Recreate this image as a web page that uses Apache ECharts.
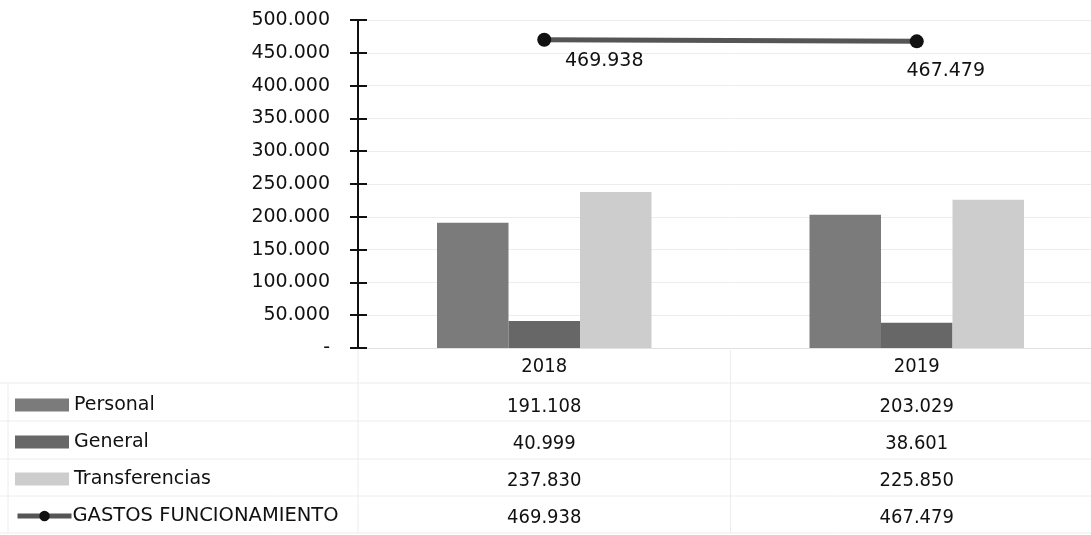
<!DOCTYPE html>
<html>
<head>
<meta charset="utf-8">
<script src="https://cdn.jsdelivr.net/npm/echarts@6/dist/echarts.min.js"></script>
<style>
html,body{margin:0;padding:0;background:#fff;overflow:hidden;width:1091px;height:535px;}
#main{width:1110px;height:535px;}
</style>
</head>
<body>
<div id="main"></div>
<script>
const categories = ['2018', '2019'];
const seriesNames = ['Personal', 'General', 'Transferencias', 'GASTOS FUNCIONAMIENTO'];
const personal = [191108, 203029];
const general = [40999, 38601];
const transferencias = [237830, 225850];
const gastos = [469938, 467479];
const yTickValues = [0, 50000, 100000, 150000, 200000, 250000, 300000, 350000, 400000, 450000, 500000];

const fmt = v => v === 0 ? '-' : String(v).replace(/\B(?=(\d{3})+(?!\d))/g, '.');
const wideFont = "'DejaVu Sans', Verdana, sans-serif";
const narrowFont = "'DejaVu Sans Condensed', 'Liberation Sans Narrow', 'Roboto', sans-serif";

const chart = echarts.init(document.getElementById('main'), null, {renderer: 'canvas'});

const legendRowsY = [405, 442, 479, 516];
const legends = seriesNames.map((n, i) => {
  const l = {
    data: [{name: n, icon: 'rect'}],
    left: 15,
    top: legendRowsY[i] - 10,
    padding: 0,
    itemWidth: 54,
    itemHeight: 13,
    selectedMode: false,
    textStyle: {fontFamily: wideFont, fontSize: 19, color: '#111', lineHeight: 20}
  };
  if (i === 3) {
    l.data = [n];
    l.itemGap = 0;
    l.lineStyle = {width: 5, color: '#555'};
    l.itemStyle = {color: '#111'};
    l.textStyle = {fontFamily: wideFont, fontSize: 19.5, color: '#111', lineHeight: 20, padding: [0, 0, 0, -4]};
  }
  return l;
});

const labelOffsets = [[60, 0], [29, 8]];

chart.setOption({
  animation: false,
  backgroundColor: '#fff',
  legend: legends,
  grid: {left: 358, top: 20, width: 745, height: 328, containLabel: false},
  xAxis: {
    type: 'category',
    data: categories,
    axisLine: {show: true, lineStyle: {color: '#e2e2e2', width: 1}},
    axisTick: {show: false},
    axisLabel: {fontFamily: narrowFont, fontSize: 20, color: '#111', margin: 9}
  },
  yAxis: [{
    type: 'value',
    min: yTickValues[0],
    max: yTickValues[yTickValues.length - 1],
    interval: yTickValues[1] - yTickValues[0],
    axisLine: {show: true, lineStyle: {color: '#111', width: 2}},
    axisTick: {show: true, length: 8, lineStyle: {color: '#111', width: 2}},
    axisLabel: {fontFamily: wideFont, fontSize: 19, color: '#111', margin: 28, formatter: fmt},
    splitLine: {show: true, lineStyle: {color: '#ececec', width: 1}}
  }, {
    type: 'value',
    position: 'left',
    min: yTickValues[0],
    max: yTickValues[yTickValues.length - 1],
    interval: yTickValues[1] - yTickValues[0],
    axisLine: {show: false},
    axisTick: {show: true, inside: true, length: 9, lineStyle: {color: '#111', width: 2}},
    axisLabel: {show: false},
    splitLine: {show: false}
  }],
  series: [
    {name: seriesNames[0], type: 'bar', data: personal, barWidth: 71.5, barGap: '0%', itemStyle: {color: '#7b7b7b'}},
    {name: seriesNames[1], type: 'bar', data: general, barWidth: 71.5, barGap: '0%', itemStyle: {color: '#676767'}},
    {name: seriesNames[2], type: 'bar', data: transferencias, barWidth: 71.5, barGap: '0%', itemStyle: {color: '#cdcdcd'}},
    {
      name: seriesNames[3], type: 'line',
      data: gastos.map((v, i) => ({value: v, label: {offset: labelOffsets[i]}})),
      symbol: 'circle', symbolSize: 14,
      lineStyle: {color: '#555', width: 5},
      itemStyle: {color: '#111'},
      label: {show: true, position: 'bottom', formatter: p => fmt(p.value), fontFamily: wideFont, fontSize: 19, color: '#111'}
    }
  ]
});

// Data table below the chart
const rowsY = [407, 444, 481, 518];
const rowData = [personal, general, transferencias, gastos];
const graphics = [];
const hLines = [383, 421, 459, 496, 533];
hLines.forEach(y => graphics.push({type: 'line', shape: {x1: 0, y1: y, x2: 1110, y2: y}, style: {stroke: '#ececec', lineWidth: 1}, silent: true}));
const x0 = chart.convertToPixel({xAxisIndex: 0}, categories[0]);
const x1 = chart.convertToPixel({xAxisIndex: 0}, categories[1]);
const half = (x1 - x0) / 2;
[x0 - half, x0 + half].forEach(x => graphics.push({type: 'line', shape: {x1: x, y1: 350, x2: x, y2: 533}, style: {stroke: '#ececec', lineWidth: 1}, silent: true}));
graphics.push({type: 'line', shape: {x1: 8, y1: 383, x2: 8, y2: 533}, style: {stroke: '#ececec', lineWidth: 1}, silent: true});
rowData.forEach((arr, r) => {
  categories.forEach((c, ci) => {
    const x = chart.convertToPixel({xAxisIndex: 0}, c);
    graphics.push({
      type: 'text', x: x, y: rowsY[r],
      style: {text: fmt(arr[ci]), fontFamily: narrowFont, fontSize: 20, fill: '#111', textAlign: 'center', textVerticalAlign: 'middle'}
    });
  });
});
chart.setOption({graphic: graphics});
</script>
</body>
</html>
